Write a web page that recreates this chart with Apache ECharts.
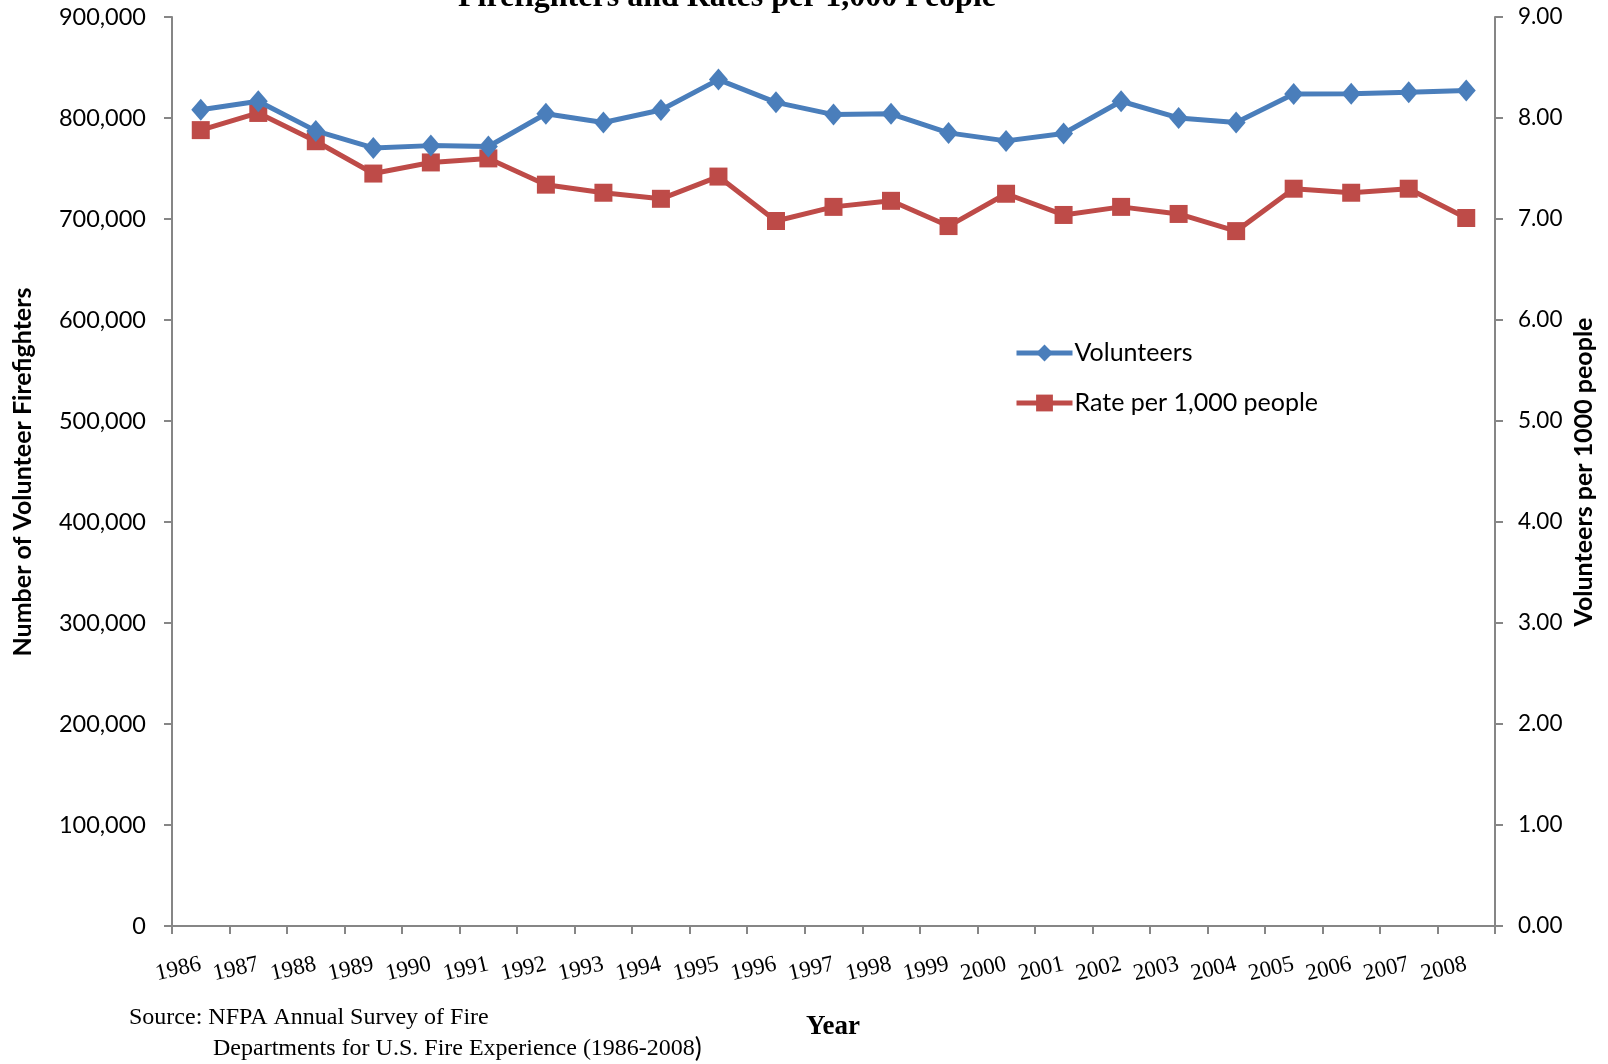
<!DOCTYPE html>
<html>
<head>
<meta charset="utf-8">
<script src="https://cdn.jsdelivr.net/npm/echarts@6/dist/echarts.min.js"></script>
<style>
  html, body { margin: 0; padding: 0; background: #fff; }
  #chart { width: 1608px; height: 1064px; }
</style>
</head>
<body>
<div id="chart"></div>
<script>
// Volunteer firefighters in the U.S., 1986-2008
const years = ['1986','1987','1988','1989','1990','1991','1992','1993','1994','1995','1996','1997',
               '1998','1999','2000','2001','2002','2003','2004','2005','2006','2007','2008'];
const volunteers = [808200, 816600, 787250, 770350, 772650, 771800, 804200, 795600, 807900, 838000,
                    815500, 803350, 804200, 785250, 777350, 784700, 816600, 800050, 795600, 823650,
                    823950, 825450, 827150];
const ratePer1000 = [7.88, 8.05, 7.77, 7.45, 7.56, 7.60, 7.34, 7.26, 7.20, 7.42, 6.98, 7.12,
                     7.18, 6.93, 7.25, 7.04, 7.12, 7.05, 6.88, 7.30, 7.26, 7.30, 7.01];

const SANS = 'Lato, "Open Sans", sans-serif';
const SERIF = '"Liberation Serif", "Times New Roman", serif';
const AXIS_GREY = '#868686';
const BLUE = '#4A7EBB';
const RED = '#BE4B48';

const chart = echarts.init(document.getElementById('chart'), null, { renderer: 'canvas' });

const fmtThousands = v => v.toLocaleString('en-US');

chart.setOption({
  backgroundColor: '#ffffff',
  animation: false,
  grid: { left: 172, right: 113, top: 17, bottom: 138, containLabel: false },
  legend: {
    orient: 'vertical',
    left: 1009,
    top: 335,
    itemWidth: 56,
    itemHeight: 21,
    itemGap: 24,
    lineStyle: { width: 5 },
    textStyle: { fontFamily: SANS, fontSize: 25, color: '#000', lineHeight: 26, padding: [0, 0, 0, -3] },
    data: ['Volunteers', 'Rate per 1,000 people']
  },
  xAxis: {
    type: 'category',
    data: years,
    boundaryGap: true,
    axisLine: { lineStyle: { color: AXIS_GREY, width: 2 } },
    axisTick: { show: true, length: 8, lineStyle: { color: AXIS_GREY, width: 2 } },
    axisLabel: {
      rotate: 13,
      margin: 38,
      interval: 0,
      fontFamily: SERIF,
      fontSize: 23,
      color: '#000'
    },
    splitLine: { show: false }
  },
  yAxis: [
    {
      type: 'value',
      min: 0,
      max: 900000,
      interval: 100000,
      position: 'left',
      axisLine: { show: true, lineStyle: { color: AXIS_GREY, width: 2 } },
      axisTick: { show: true, length: 8, lineStyle: { color: AXIS_GREY, width: 2 } },
      axisLabel: {
        margin: 26,
        fontFamily: SANS,
        fontSize: 23.5,
        color: '#000',
        formatter: fmtThousands
      },
      splitLine: { show: false }
    },
    {
      type: 'value',
      min: 0,
      max: 9,
      interval: 1,
      position: 'right',
      axisLine: { show: true, lineStyle: { color: AXIS_GREY, width: 2 } },
      axisTick: { show: true, length: 8, lineStyle: { color: AXIS_GREY, width: 2 } },
      axisLabel: {
        margin: 23,
        fontFamily: SANS,
        fontSize: 22.5,
        color: '#000',
        formatter: v => v.toFixed(2)
      },
      splitLine: { show: false }
    }
  ],
  series: [
    {
      name: 'Volunteers',
      type: 'line',
      yAxisIndex: 0,
      data: volunteers,
      symbol: 'diamond',
      symbolSize: [19, 22],
      showAllSymbol: true,
      lineStyle: { color: BLUE, width: 5 },
      itemStyle: { color: BLUE },
      z: 3
    },
    {
      name: 'Rate per 1,000 people',
      type: 'line',
      yAxisIndex: 1,
      data: ratePer1000,
      symbol: 'rect',
      symbolSize: 18,
      showAllSymbol: true,
      lineStyle: { color: RED, width: 5 },
      itemStyle: { color: RED },
      z: 2
    }
  ],
  graphic: [
    {
      type: 'text',
      x: 727, y: 14,
      style: {
        text: 'Firefighters and Rates per 1,000 People',
        font: 'bold 32px ' + SERIF,
        fill: '#000',
        textAlign: 'center',
        textVerticalAlign: 'bottom'
      }
    },
    {
      type: 'text',
      x: 23, y: 472,
      rotation: Math.PI / 2,
      style: {
        text: 'Number of Volunteer Firefighters',
        font: 'bold 25px ' + SANS,
        fill: '#000',
        textAlign: 'center',
        textVerticalAlign: 'middle'
      }
    },
    {
      type: 'text',
      x: 1584, y: 472,
      rotation: Math.PI / 2,
      style: {
        text: 'Volunteers per 1000 people',
        font: 'bold 25px ' + SANS,
        fill: '#000',
        textAlign: 'center',
        textVerticalAlign: 'middle'
      }
    },
    {
      type: 'text',
      x: 833, y: 1027,
      style: {
        text: 'Year',
        font: 'bold 27px ' + SERIF,
        fill: '#000',
        textAlign: 'center',
        textVerticalAlign: 'middle'
      }
    },
    {
      type: 'text',
      x: 129, y: 1018,
      style: {
        text: 'Source: NFPA Annual Survey of Fire',
        font: '24px ' + SERIF,
        fill: '#000',
        textAlign: 'left',
        textVerticalAlign: 'middle'
      }
    },
    {
      type: 'text',
      x: 213, y: 1049,
      style: {
        text: '{a|Departments for U.S. Fire Experience (1986-2008}{b|)}',
        fill: '#000',
        textAlign: 'left',
        textVerticalAlign: 'middle',
        rich: {
          a: { fontFamily: SERIF, fontSize: 24, fill: '#000' },
          b: { fontFamily: SANS, fontSize: 26, fill: '#000' }
        }
      }
    }
  ]
});
</script>
</body>
</html>
